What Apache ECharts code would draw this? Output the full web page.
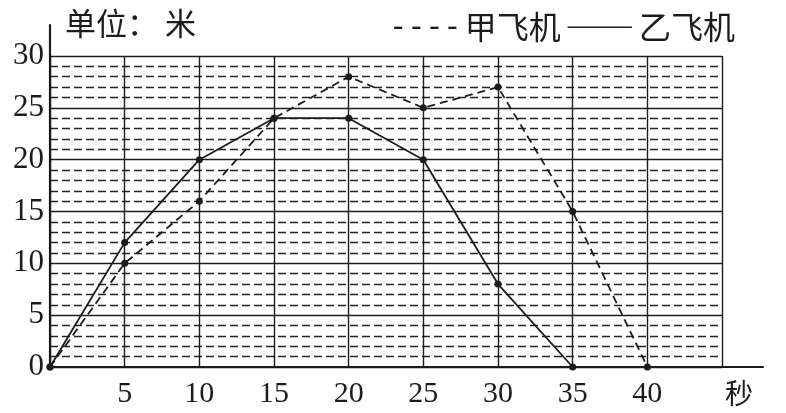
<!DOCTYPE html>
<html>
<head>
<meta charset="utf-8">
<script src="https://cdn.jsdelivr.net/npm/echarts@6/dist/echarts.min.js"></script>
<style>
html,body{margin:0;padding:0;background:#fff;}
#chart{width:786px;height:413px;}
</style>
</head>
<body>
<div id="chart"></div>
<script>
// 时间(秒)
var seconds = [0, 5, 10, 15, 20, 25, 30, 35, 40];
// 甲飞机 高度(米)
var jiaHeights = [0, 10, 16, 24, 28, 25, 27, 15, 0];
// 乙飞机 高度(米)
var yiHeights = [0, 12, 20, 24, 24, 20, 8, 0];
var xLabels = ['', '5', '10', '15', '20', '25', '30', '35', '40', '{s|秒}'];
var yLabels = ['0', '5', '10', '15', '20', '25', '30'];

var ink = '#1c1c1c';
var numFont = "'Liberation Serif', 'Noto Sans CJK SC', serif";
var cjkFont = "'Noto Sans CJK SC', sans-serif";

function pairs(xs, ys){
    var out = [];
    for(var i=0;i<ys.length;i++){
        out.push([xs[i], ys[i]]);
    }
    return out;
}

var chart = echarts.init(document.getElementById('chart'));
chart.setOption({
    animation:false,
    backgroundColor:'#fff',
    title:{
        text:'单位： 米',
        left:60,
        top:3,
        textStyle:{
            fontFamily:cjkFont,
            fontWeight:'normal',
            fontSize:31,
            color:ink
        }
    },
    legend:{
        right:46,
        top:2,
        icon:'none',
        itemWidth:0,
        itemGap:2,
        data:['甲飞机','乙飞机'],
        formatter:function(name){
            if(name==='甲飞机'){
                return '{d|- - - -}{t| 甲飞机}';
            }
            return '{e|——}{t| 乙飞机}';
        },
        textStyle:{
            rich:{
                d:{fontFamily:numFont,fontSize:31,color:ink,verticalAlign:'middle',height:40,lineHeight:40},
                e:{fontFamily:numFont,fontSize:32,color:ink,verticalAlign:'middle',height:40,lineHeight:40},
                t:{fontFamily:cjkFont,fontSize:32,color:ink,verticalAlign:'middle',height:40,lineHeight:40}
            }
        }
    },
    grid:[
        {left:50, top:56, width:672, height:311},
        {left:50, top:25, width:713, height:342}
    ],
    xAxis:[
        {
            type:'value',
            gridIndex:0,
            min:0,
            max:45,
            interval:5,
            axisLine:{show:false},
            axisTick:{show:false},
            axisLabel:{
                margin:12,
                formatter:function(v){ return xLabels[v/5]; },
                rich:{
                    s:{fontFamily:cjkFont,fontSize:28,color:ink,padding:[0,0,0,34]}
                },
                fontFamily:numFont,
                fontSize:30,
                color:ink
            },
            splitLine:{show:true,lineStyle:{color:ink,width:1.4}}
        },
        {
            type:'value',
            gridIndex:1,
            min:0,
            max:1,
            axisLine:{show:true,lineStyle:{color:ink,width:2.2}},
            axisTick:{show:false},
            axisLabel:{show:false},
            splitLine:{show:false}
        }
    ],
    yAxis:[
        {
            type:'value',
            gridIndex:0,
            min:0,
            max:30,
            interval:5,
            axisLine:{show:false},
            axisTick:{show:false},
            axisLabel:{
                margin:6,
                formatter:function(v){ return yLabels[v/5]; },
                fontFamily:numFont,
                fontSize:31,
                color:ink
            },
            splitLine:{show:true,lineStyle:{color:ink,width:1.4}},
            minorTick:{show:false,splitNumber:5},
            minorSplitLine:{show:true,lineStyle:{color:'#222',width:1.4,type:[8,4]}}
        },
        {
            type:'value',
            gridIndex:1,
            min:0,
            max:1,
            axisLine:{show:true,lineStyle:{color:ink,width:2.2}},
            axisTick:{show:false},
            axisLabel:{show:false},
            splitLine:{show:false}
        }
    ],
    series:[
        {
            name:'甲飞机',
            type:'line',
            xAxisIndex:0,
            yAxisIndex:0,
            data:pairs(seconds, jiaHeights),
            symbol:'circle',
            symbolSize:7,
            itemStyle:{color:ink},
            lineStyle:{color:ink,width:1.8,type:[8,5]}
        },
        {
            name:'乙飞机',
            type:'line',
            xAxisIndex:0,
            yAxisIndex:0,
            data:pairs(seconds, yiHeights),
            symbol:'circle',
            symbolSize:7,
            itemStyle:{color:ink},
            lineStyle:{color:ink,width:1.8}
        }
    ]
});
</script>
</body>
</html>
